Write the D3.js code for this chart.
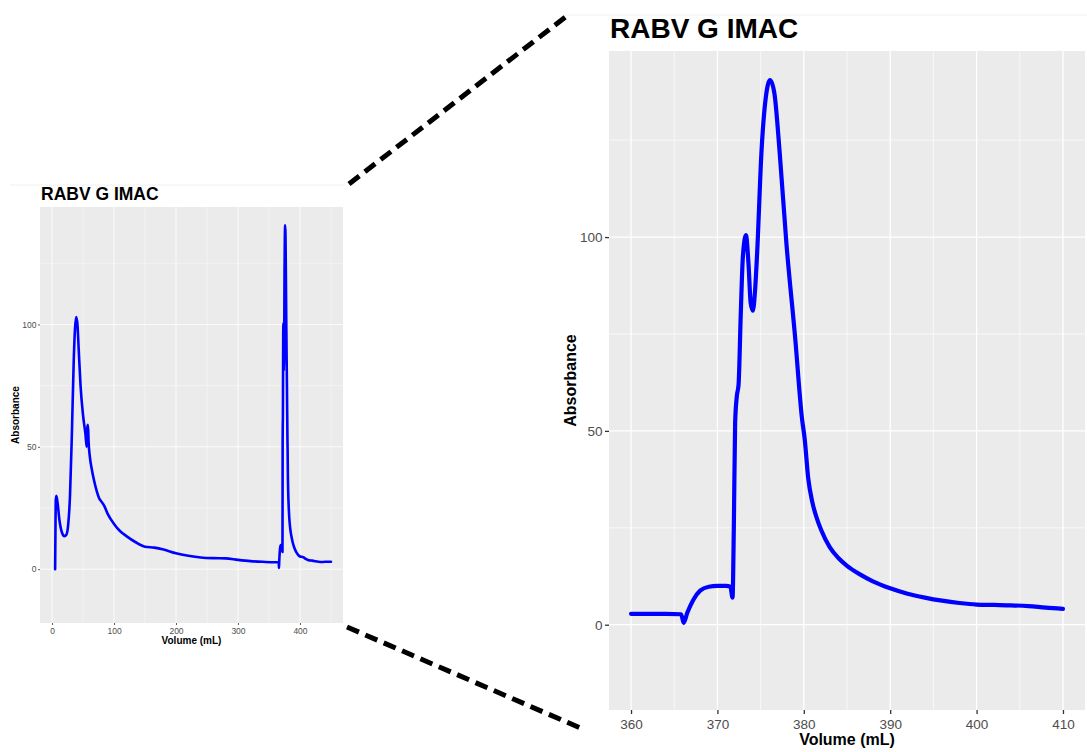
<!DOCTYPE html>
<html>
<head>
<meta charset="utf-8">
<script src="https://cdn.jsdelivr.net/npm/d3@7"></script>
<style>
body { margin: 0; background: #fff; }
svg { font-family: "Liberation Sans", Arial, Helvetica, sans-serif; }
</style>
</head>
<body>
<script>
// chromatogram values
var volume = [5, 5.5, 6, 7, 9, 12, 16, 20, 23, 26, 29, 32, 35, 37, 39, 41, 43, 46, 50, 54, 56, 57, 58, 59, 61, 64,
    68, 72, 76, 80, 84, 90, 100, 110, 120, 135, 150, 165, 180, 200, 220, 240, 260, 280, 300, 320, 340, 360,
    362, 364, 365.8, 366.1, 366.5, 367.2, 368, 369, 370, 371, 371.5, 371.75, 371.9, 372.05, 372.25, 372.45,
    372.7, 372.95, 373.3, 373.6, 373.85, 374.1, 374.35, 374.6, 375.1, 375.6, 376.1, 376.6, 377.2, 378, 379,
    379.8, 380.1, 380.5, 381, 381.5, 382, 383, 384, 385, 386.5, 388, 390, 392, 394, 396, 398, 400, 402, 404,
    406, 408, 410, 415, 420, 425, 430, 435, 440, 445, 450];
var absorbance = [0, 15, 28, 30, 27, 20, 15, 13.5, 14, 18, 30, 55, 85, 98, 103, 100, 90, 75, 63, 55, 50, 58, 59, 52, 46, 41,
    36, 32, 29, 27.5, 26, 22.5, 18.5, 15.5, 13.5, 11, 9.2, 8.8, 8, 6.5, 5.5, 4.8, 4.5, 4.4, 3.8, 3.3, 3, 2.8,
    2.8, 2.8, 2.7, 0.5, 3, 6.4, 8.8, 9.8, 10, 10, 9.8, 7, 25, 52, 59, 62,
    80, 95, 100.5, 93, 83, 81, 86, 96, 122, 136, 140.5, 137, 122, 98, 74,
    53, 48, 38, 31.5, 27.5, 24.5, 20, 17.2, 15.2, 13, 11.2, 9.4, 8, 7, 6.2, 5.6, 5.2, 5.1, 5,
    4.8, 4.4, 4.1, 3.6, 3.5, 3.2, 3, 2.9, 3, 3, 3];

var xTicksFull = [0, 100, 200, 300, 400];
var xTicksZoom = [360, 370, 380, 390, 400, 410];
var yTicks = [0, 50, 100];
var zoomRange = [360, 410];
var chartTitle = "RABV G IMAC";
var xTitle = "Volume (mL)";
var yTitle = "Absorbance";

var data = volume.map(function (v, i) {
    return { volume: v, absorbance: absorbance[i] };
});

var svg = d3.select("body").append("svg")
    .attr("width", 1087)
    .attr("height", 752);

/**
 * midpoints between ticks, plus one step beyond each end, kept inside the domain
 */
function minorTicks(ticks, domain) {
    var step = ticks[1] - ticks[0];
    var out = [];
    for (var t = ticks[0] - step / 2; t <= domain[1]; t += step) {
        if (t >= domain[0]) out.push(t);
    }
    return out;
}

/**
 * one ggplot-looking panel
 */
function drawPanel(o) {
    var g = svg.append("g");
    var x = d3.scaleLinear().domain(o.xDomain).range([o.left, o.right]);
    var y = d3.scaleLinear().domain(o.yDomain).range([o.bottom, o.top]);

    g.append("rect")
        .attr("x", o.left).attr("y", o.top)
        .attr("width", o.right - o.left).attr("height", o.bottom - o.top)
        .attr("fill", "#ebebeb");

    // grid
    g.selectAll(".xminor").data(minorTicks(o.xTicks, o.xDomain)).enter().append("line")
        .attr("x1", x).attr("x2", x).attr("y1", o.top).attr("y2", o.bottom)
        .attr("stroke", "#fff").attr("stroke-width", o.grid / 2);
    g.selectAll(".yminor").data(minorTicks(o.yTicks, o.yDomain)).enter().append("line")
        .attr("y1", y).attr("y2", y).attr("x1", o.left).attr("x2", o.right)
        .attr("stroke", "#fff").attr("stroke-width", o.grid / 2);
    g.selectAll(".xmajor").data(o.xTicks).enter().append("line")
        .attr("x1", x).attr("x2", x).attr("y1", o.top).attr("y2", o.bottom)
        .attr("stroke", "#fff").attr("stroke-width", o.grid);
    g.selectAll(".ymajor").data(o.yTicks).enter().append("line")
        .attr("y1", y).attr("y2", y).attr("x1", o.left).attr("x2", o.right)
        .attr("stroke", "#fff").attr("stroke-width", o.grid);

    var clipId = "clip" + o.name;
    svg.append("clipPath").attr("id", clipId).append("rect")
        .attr("x", o.left).attr("y", o.top)
        .attr("width", o.right - o.left).attr("height", o.bottom - o.top);

    var line = d3.line()
        .x(function (d) { return x(d.volume); })
        .y(function (d) { return y(d.absorbance); })
        .curve(d3.curveMonotoneX);

    var rows = data.filter(function (d) { return d.volume >= o.dataRange[0] && d.volume <= o.dataRange[1]; });
    g.append("path")
        .datum(rows)
        .attr("clip-path", "url(#" + clipId + ")")
        .attr("d", line)
        .attr("fill", "none")
        .attr("stroke", "#0000ff")
        .attr("stroke-width", o.lineWidth)
        .attr("stroke-linejoin", "round")
        .attr("stroke-linecap", "round");

    // axes
    var xAxis = d3.axisBottom(x).tickValues(o.xTicks).tickSize(o.tickLen).tickPadding(o.tickPad);
    var gx = g.append("g").attr("transform", "translate(0," + o.bottom + ")").call(xAxis);
    var yAxis = d3.axisLeft(y).tickValues(o.yTicks).tickSize(o.tickLen).tickPadding(o.tickPad / 2);
    var gy = g.append("g").attr("transform", "translate(" + o.left + ",0)").call(yAxis);
    [gx, gy].forEach(function (a) {
        a.select(".domain").remove();
        a.selectAll(".tick line").attr("stroke", "#333").attr("stroke-width", o.grid);
        a.selectAll(".tick text")
            .attr("fill", "#4d4d4d")
            .style("font-family", "Liberation Sans, Arial, sans-serif")
            .style("font-size", o.tickFont + "px");
    });

    g.append("text")
        .attr("x", (o.left + o.right) / 2).attr("y", o.xTitleY)
        .attr("text-anchor", "middle")
        .style("font-weight", "bold").style("font-size", o.axisFont + "px")
        .text(xTitle);
    g.append("text")
        .attr("transform", "translate(" + o.yTitleX + "," + (o.top + o.bottom) / 2 + ") rotate(-90)")
        .attr("text-anchor", "middle")
        .style("font-weight", "bold").style("font-size", o.axisFont + "px")
        .text(yTitle);
    g.append("text")
        .attr("x", o.left + 1).attr("y", o.titleY)
        .style("font-weight", "bold").style("font-size", o.titleFont + "px")
        .text(chartTitle);
}

// faint edges of the pasted screenshots
svg.append("line").attr("x1", 10).attr("x2", 345).attr("y1", 185).attr("y2", 185)
    .attr("stroke", "#f0f0f0").attr("stroke-width", 1);
svg.append("line").attr("x1", 565).attr("x2", 1087).attr("y1", 15).attr("y2", 15)
    .attr("stroke", "#f0f0f0").attr("stroke-width", 1);

// full run
drawPanel({
    name: "Full",
    left: 40, right: 343, top: 207, bottom: 623,
    xDomain: [-19.4, 469.4], yDomain: [-22, 148],
    dataRange: [0, 1000],
    xTicks: xTicksFull, yTicks: yTicks,
    lineWidth: 2.6, grid: 0.8, tickLen: 2, tickPad: 3,
    tickFont: 8.5, axisFont: 10, titleFont: 17.5,
    xTitleY: 644, yTitleX: 19, titleY: 200
});

// zoom on the elution peak
drawPanel({
    name: "Zoom",
    left: 609, right: 1085, top: 51, bottom: 710,
    xDomain: [357.45, 412.55], yDomain: [-22, 148],
    dataRange: zoomRange,
    xTicks: xTicksZoom, yTicks: yTicks,
    lineWidth: 4.2, grid: 1.3, tickLen: 4, tickPad: 5,
    tickFont: 13.5, axisFont: 16, titleFont: 28,
    xTitleY: 745, yTitleX: 576, titleY: 38
});

// connector lines
[[349, 184, 568, 15], [347, 627, 585, 730]].forEach(function (p) {
    svg.append("line")
        .attr("x1", p[0]).attr("y1", p[1]).attr("x2", p[2]).attr("y2", p[3])
        .attr("stroke", "#000").attr("stroke-width", 5)
        .attr("stroke-dasharray", "13,7");
});
</script>
</body>
</html>
